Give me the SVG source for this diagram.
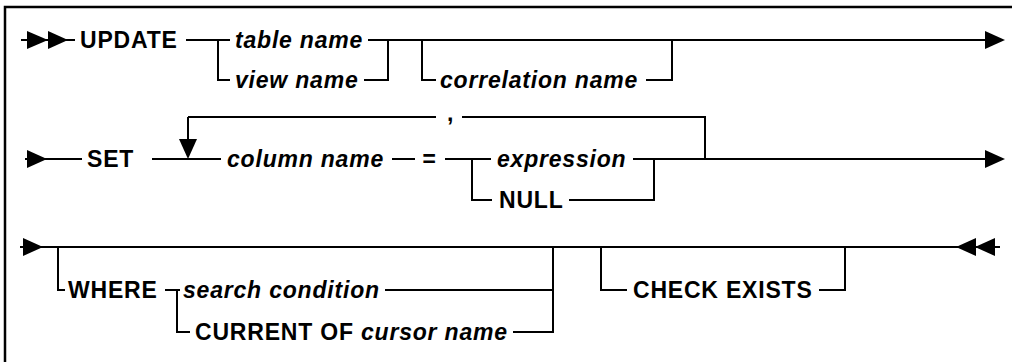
<svg xmlns="http://www.w3.org/2000/svg" width="1012" height="362" viewBox="0 0 1012 362">
<style>
.t{font-family:"Liberation Sans",Arial,Helvetica,sans-serif;font-weight:bold;font-size:23px;letter-spacing:0.8px;fill:#000}
.i{font-style:italic}
.l{fill:none;stroke:#000;stroke-width:2}
.a{fill:#000;stroke:none}
</style>
<rect width="1012" height="362" fill="#fff"/>
<g id="frame"><path class="l" d="M5,362 V7 H1012" style="stroke-width:2.5"/></g>
<g id="connectors">
<path class="l" d="M21,40 H75 M186,40 H230 M218,40 V80 H230 M368,40 H985 M364,80 H388 V40 M422,40 V80 H436 M646,80 H672 V40"/>
<path class="l" d="M25,159 H82 M152,159 H221 M188,117 V140 M188,117 H436 M462,117 H705 V159 M392,159 H415 M445,159 H491 M472,159 V200 H492 M633,159 H985 M569,200 H654 V159"/>
<path class="l" d="M20,247 H1000 M58,247 V290 H65 M165,290 H180 M177,290 V332 H190 M385,290 H553 M513,332 H553 V247 M601,247 V290 H627 M819,290 H845 V247"/>
<polygon class="a" points="27,31 48,40 27,49"/>
<polygon class="a" points="48,31 68,40 48,49"/>
<polygon class="a" points="985,31 1005,40 985,49"/>
<polygon class="a" points="27,150 47,159 27,168"/>
<polygon class="a" points="985,150 1005,159 985,168"/>
<polygon class="a" points="179,139 197,139 188,159"/>
<polygon class="a" points="23,238 43,247 23,256"/>
<polygon class="a" points="956,247 976,238 976,256"/>
<polygon class="a" points="975,247 995,238 995,256"/>
</g>
<g id="n-update"><text class="t" x="80" y="48">UPDATE</text></g>
<g id="n-table-name"><text class="t i" x="235" y="48">table name</text></g>
<g id="n-view-name"><text class="t i" x="235" y="88">view name</text></g>
<g id="n-correlation-name"><text class="t i" x="440" y="88">correlation name</text></g>
<g id="n-set"><text class="t" x="87" y="167">SET</text></g>
<g id="n-column-name"><text class="t i" x="227" y="167">column name</text></g>
<g id="n-equals"><text class="t i" x="422" y="167">=</text></g>
<g id="n-comma"><text class="t" x="447" y="121">,</text></g>
<g id="n-expression"><text class="t i" x="497" y="167">expression</text></g>
<g id="n-null"><text class="t" x="499" y="208">NULL</text></g>
<g id="n-where"><text class="t" x="68" y="298">WHERE</text></g>
<g id="n-search-condition"><text class="t i" x="183" y="298">search condition</text></g>
<g id="n-current-of"><text class="t" x="195" y="340">CURRENT OF <tspan class="i">cursor name</tspan></text></g>
<g id="n-check-exists"><text class="t" x="633" y="298">CHECK EXISTS</text></g>
</svg>
